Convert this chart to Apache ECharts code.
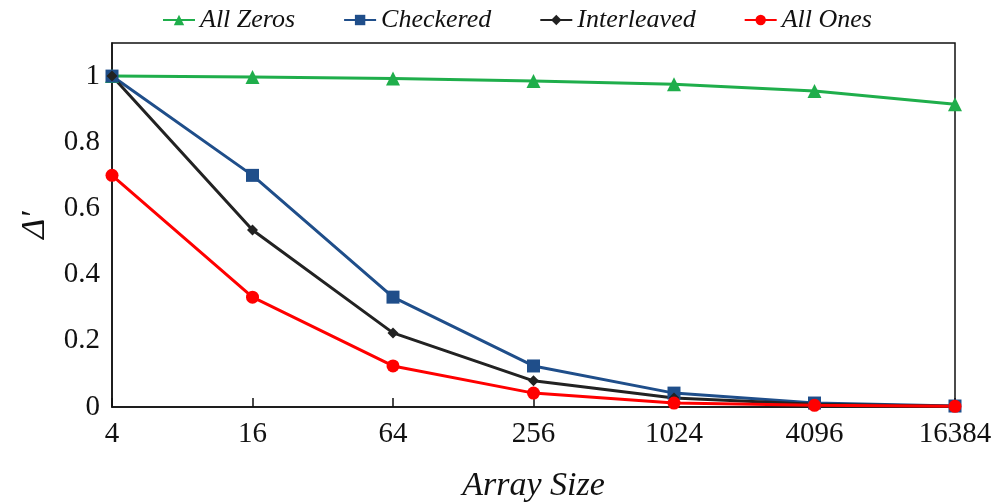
<!DOCTYPE html>
<html><head><meta charset="utf-8">
<script src="https://cdn.jsdelivr.net/npm/echarts@6/dist/echarts.min.js"></script>
<style>html,body{margin:0;padding:0;background:#fff}#c{width:995px;height:502px}</style>
</head><body><div id="c"></div>
<script>
const categories = ['4','16','64','256','1024','4096','16384'];
const allZeros = [1.0, 0.997, 0.993, 0.985, 0.975, 0.955, 0.915];
const checkered = [1.0, 0.70, 0.332, 0.124, 0.042, 0.012, 0.003];
const interleaved = [1.0, 0.535, 0.224, 0.079, 0.027, 0.008, 0.002];
const allOnes = [0.70, 0.332, 0.124, 0.042, 0.012, 0.005, 0.002];
const yTicks = [0, 0.2, 0.4, 0.6, 0.8, 1];

const font = 'Liberation Serif';
const chart = echarts.init(document.getElementById('c'), null, {renderer:'canvas'});
function s(name, data, color, symbol, size){
  return {name, type:'line', data, symbol, symbolSize:size, color,
    lineStyle:{width:3, color}, itemStyle:{color}};
}
chart.setOption({
  animation:false,
  legend:{top:2, left:157, itemGap:48, itemWidth:32, itemHeight:13,
    textStyle:{fontFamily:font, fontStyle:'italic', fontSize:26, color:'#111'},
    data:['All Zeros','Checkered','Interleaved','All Ones']},
  grid:{left:112, right:40, top:43, bottom:95, show:true, borderColor:'#111', borderWidth:1.5,
    containLabel:false, outerBoundsMode:'none'},
  xAxis:{type:'category', data:categories, boundaryGap:false,
    axisLine:{lineStyle:{color:'#111', width:1.5}},
    axisTick:{inside:true, length:9, alignWithLabel:true, lineStyle:{color:'#111', width:1.5}},
    axisLabel:{fontFamily:font, fontSize:29, color:'#111', margin:13},
    name:'Array Size', nameLocation:'middle', nameGap:62,
    nameTextStyle:{fontFamily:font, fontStyle:'italic', fontSize:34, color:'#111'}},
  yAxis:{type:'value', min:0, max:1.1, interval:0.2,
    axisLine:{show:true, lineStyle:{color:'#111', width:1.5}},
    axisTick:{inside:true, length:8, lineStyle:{color:'#111', width:1.5}},
    splitLine:{show:false},
    axisLabel:{fontFamily:font, fontSize:29, color:'#111', margin:12,
      formatter:v => yTicks.some(t=>Math.abs(t-v)<1e-9) ? String(+v.toFixed(1)) : ''},
    name:'Δ′', nameLocation:'middle', nameGap:60, nameRotate:90,
    nameTextStyle:{fontFamily:font, fontStyle:'italic', fontSize:34, color:'#111'}},
  series:[
    s('All Zeros', allZeros, '#1fae4b', 'triangle', 14),
    s('Checkered', checkered, '#1f4e8a', 'rect', 13),
    s('Interleaved', interleaved, '#222222', 'diamond', 11),
    s('All Ones', allOnes, '#ff0000', 'circle', 13)
  ]
});
</script></body></html>
